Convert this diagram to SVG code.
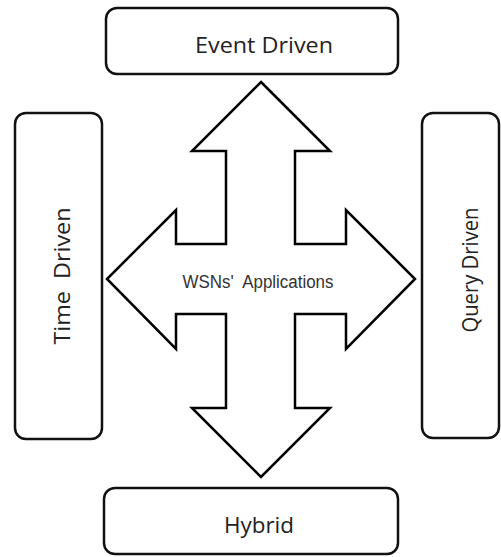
<svg xmlns="http://www.w3.org/2000/svg" width="501" height="557" viewBox="0 0 501 557">
  <style>
    .box { fill: #fff; stroke: #111; stroke-width: 2.5; }
    .lbl { font-family: "Open Sans", "Noto Sans", sans-serif; font-size: 21px; fill: #222; text-anchor: middle; }
    .arrow { fill: #fff; stroke: #000; stroke-width: 2.5; stroke-linejoin: miter; }
    .center { font-family: "Liberation Sans", Arial, sans-serif; font-size: 18px; fill: #333; text-anchor: middle; }
  </style>
  <rect width="501" height="557" fill="#fff"/>

  <g id="connectors">
    <!-- four-way arrow -->
    <path class="arrow" d="M261,82 L330,151 L295,151 L295,244 L346,244 L346,210 L415,279 L346,349 L346,314 L295,314 L295,408 L330,408 L261,477 L192,408 L226,408 L226,314 L176,314 L176,349 L107,279 L176,210 L176,244 L226,244 L226,151 L192,151 Z"/>
  </g>

  <g id="center-label">
    <text class="center" x="258" y="288" textLength="151" lengthAdjust="spacingAndGlyphs" xml:space="preserve">WSNs'  Applications</text>
  </g>

  <g id="event-driven">
    <rect class="box" x="106" y="8" width="292" height="66" rx="11"/>
    <text class="lbl" x="264" y="53" textLength="138" lengthAdjust="spacingAndGlyphs">Event Driven</text>
  </g>

  <g id="hybrid">
    <rect class="box" x="104" y="488" width="294" height="66" rx="11"/>
    <text class="lbl" x="259" y="533" textLength="70" lengthAdjust="spacingAndGlyphs">Hybrid</text>
  </g>

  <g id="time-driven">
    <rect class="box" x="15" y="113" width="87" height="326" rx="11"/>
    <text class="lbl" transform="translate(70,276) rotate(-90)" x="0" y="0" textLength="137" lengthAdjust="spacingAndGlyphs" xml:space="preserve">Time  Driven</text>
  </g>

  <g id="query-driven">
    <rect class="box" x="422" y="113" width="77" height="325" rx="11"/>
    <text class="lbl" transform="translate(478,270) rotate(-90)" x="0" y="0" textLength="125" lengthAdjust="spacingAndGlyphs">Query Driven</text>
  </g>
</svg>
